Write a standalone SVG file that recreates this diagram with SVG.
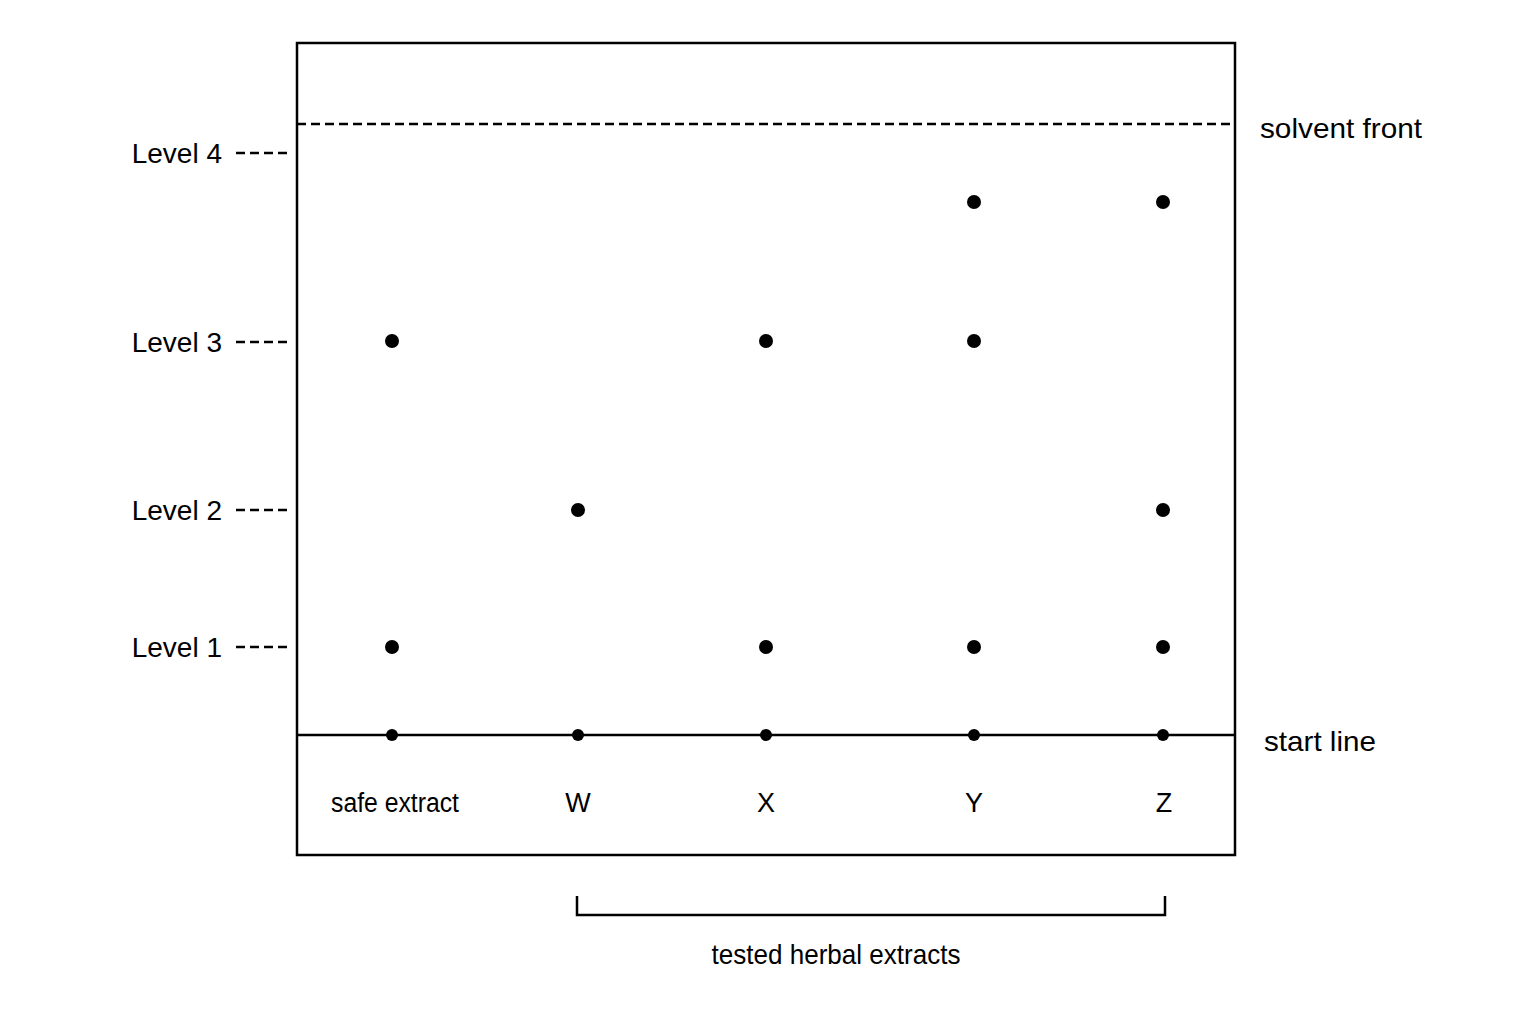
<svg xmlns="http://www.w3.org/2000/svg" width="1536" height="1024" viewBox="0 0 1536 1024">
<style>
text{font-family:"Liberation Sans",Arial,sans-serif;fill:#000;font-size:28px}
.lbl{font-size:27px}
.ln{stroke:#000;stroke-width:2.5;fill:none}
.dash{stroke:#000;stroke-width:2.5;stroke-dasharray:9 5;fill:none}
.spot{fill:#000}
</style>
<rect width="1536" height="1024" fill="#fff"/>
<g id="plate">
<rect class="ln" x="297" y="43" width="938" height="812"/>
</g>
<g id="connectors">
<line id="solvent-front-line" class="dash" x1="297" y1="124" x2="1235" y2="124"/>
<line id="start-line" class="ln" x1="297" y1="735" x2="1235" y2="735"/>
<line class="dash" x1="236" y1="153" x2="290" y2="153"/>
<line class="dash" x1="236" y1="342" x2="290" y2="342"/>
<line class="dash" x1="236" y1="510" x2="290" y2="510"/>
<line class="dash" x1="236" y1="647" x2="290" y2="647"/>
<path class="ln" d="M577 896 V915 H1165 V896"/>
</g>
<g id="level-labels">
<text x="222" y="163" text-anchor="end">Level 4</text>
<text x="222" y="352" text-anchor="end">Level 3</text>
<text x="222" y="520" text-anchor="end">Level 2</text>
<text x="222" y="657" text-anchor="end">Level 1</text>
</g>
<g id="side-labels">
<text x="1260" y="138" textLength="162" lengthAdjust="spacingAndGlyphs">solvent front</text>
<text x="1264" y="751" textLength="112" lengthAdjust="spacingAndGlyphs">start line</text>
</g>
<g id="start-spots">
<circle class="spot" cx="392" cy="735" r="6"/>
<circle class="spot" cx="578" cy="735" r="6"/>
<circle class="spot" cx="766" cy="735" r="6"/>
<circle class="spot" cx="974" cy="735" r="6"/>
<circle class="spot" cx="1163" cy="735" r="6"/>
</g>
<g id="lane-safe">
<circle class="spot" cx="392" cy="341" r="7"/>
<circle class="spot" cx="392" cy="647" r="7"/>
<text class="lbl" x="395" y="812" text-anchor="middle" textLength="128" lengthAdjust="spacingAndGlyphs">safe extract</text>
</g>
<g id="lane-W">
<circle class="spot" cx="578" cy="510" r="7"/>
<text class="lbl" x="578" y="812" text-anchor="middle">W</text>
</g>
<g id="lane-X">
<circle class="spot" cx="766" cy="341" r="7"/>
<circle class="spot" cx="766" cy="647" r="7"/>
<text class="lbl" x="766" y="812" text-anchor="middle">X</text>
</g>
<g id="lane-Y">
<circle class="spot" cx="974" cy="202" r="7"/>
<circle class="spot" cx="974" cy="341" r="7"/>
<circle class="spot" cx="974" cy="647" r="7"/>
<text class="lbl" x="974" y="812" text-anchor="middle">Y</text>
</g>
<g id="lane-Z">
<circle class="spot" cx="1163" cy="202" r="7"/>
<circle class="spot" cx="1163" cy="510" r="7"/>
<circle class="spot" cx="1163" cy="647" r="7"/>
<text class="lbl" x="1164" y="812" text-anchor="middle">Z</text>
</g>
<g id="bracket-label">
<text x="836" y="964" text-anchor="middle" textLength="249" lengthAdjust="spacingAndGlyphs">tested herbal extracts</text>
</g>
</svg>
